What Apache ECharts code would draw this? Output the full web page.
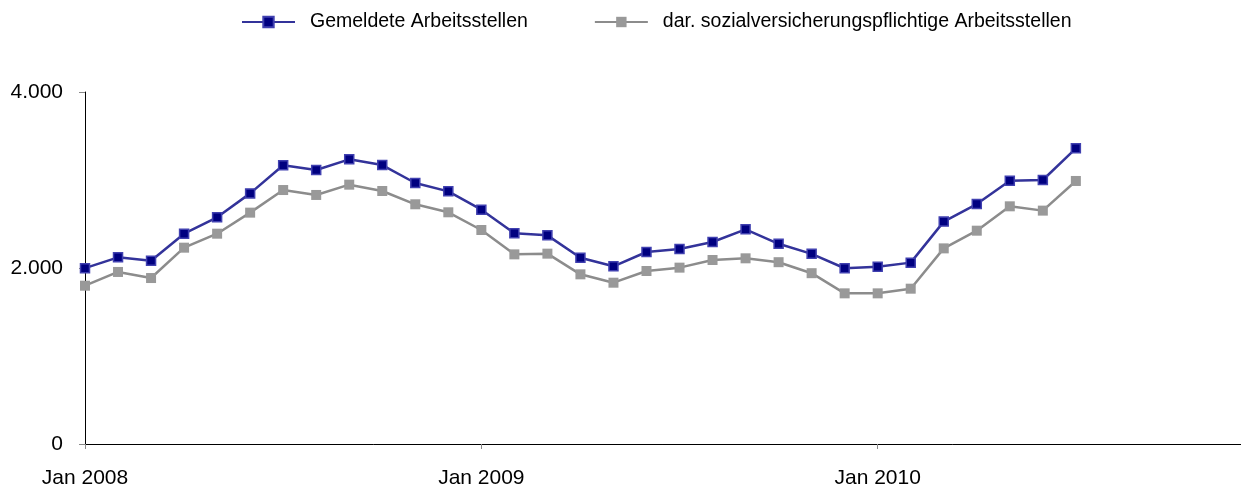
<!DOCTYPE html>
<html>
<head>
<meta charset="utf-8">
<script src="https://cdn.jsdelivr.net/npm/echarts@6/dist/echarts.min.js"></script>
<style>
  html, body { margin: 0; padding: 0; background: #fff; }
  #chart { width: 1241px; height: 490px; }
</style>
</head>
<body>
<div id="chart"></div>
<script>
// Gemeldete Arbeitsstellen, Jan 2008 - Jul 2010 (Achse bis Dez 2010)
const months = ['Jan', 'Feb', 'Mär', 'Apr', 'Mai', 'Jun', 'Jul', 'Aug', 'Sep', 'Okt', 'Nov', 'Dez']
const years = [2008, 2009, 2010]
const categories = years.flatMap(y => months.map(m => m + ' ' + y))

const gemeldete = [
  1998, 2121, 2083, 2390, 2576, 2848, 3167, 3114, 3235, 3170, 2966, 2871,
  2663, 2394, 2371, 2117, 2019, 2182, 2216, 2295, 2439, 2275, 2161, 1997,
  2015, 2061, 2527, 2727, 2992, 3000, 3360
]
const svPflichtig = [
  1799, 1955, 1886, 2231, 2390, 2629, 2886, 2830, 2947, 2875, 2724, 2633,
  2432, 2155, 2163, 1928, 1833, 1966, 2004, 2091, 2110, 2066, 1941, 1712,
  1712, 1765, 2223, 2424, 2701, 2652, 2989
]
const yTicks = [0, 2000, 4000]

const font = 'Liberation Sans, Arial, sans-serif'
const fmt = v => String(v).replace(/\B(?=(\d{3})+(?!\d))/g, '.')

const chart = echarts.init(document.getElementById('chart'))
chart.setOption({
  animation: false,
  textStyle: { fontFamily: font },
  legend: {
    left: 236,
    top: 7,
    itemWidth: 53,
    itemHeight: 13,
    itemGap: 66,
    textStyle: { fontSize: 19.5, color: '#000', fontFamily: font, padding: [0, 0, 0, 10] },
    data: ['Gemeldete Arbeitsstellen', 'dar. sozialversicherungspflichtige Arbeitsstellen']
  },
  grid: {
    left: 85,
    right: -2,
    top: 92,
    bottom: 46,
    containLabel: false
  },
  xAxis: {
    type: 'category',
    data: categories,
    boundaryGap: false,
    axisLine: { lineStyle: { color: '#000', width: 1 } },
    axisTick: { interval: 11, length: 5, lineStyle: { color: '#888' } },
    axisLabel: {
      interval: 11,
      margin: 24,
      fontSize: 21,
      color: '#000',
      formatter: v => v.replace('Mär', 'Mar').replace('Mai', 'May')
    },
    splitLine: { show: false }
  },
  yAxis: {
    type: 'value',
    min: yTicks[0],
    max: yTicks[yTicks.length - 1],
    interval: 2000,
    axisLine: { show: true, lineStyle: { color: '#000', width: 1 } },
    axisTick: { show: true, length: 6, lineStyle: { color: '#888' } },
    axisLabel: { margin: 22, fontSize: 21, color: '#000', formatter: fmt },
    splitLine: { show: false }
  },
  series: [
    {
      name: 'Gemeldete Arbeitsstellen',
      type: 'line',
      data: gemeldete,
      symbol: 'rect',
      symbolSize: 9,
      showAllSymbol: true,
      lineStyle: { color: '#33339a', width: 2.5 },
      itemStyle: { color: '#000080', borderColor: '#4040b0', borderWidth: 1.5 }
    },
    {
      name: 'dar. sozialversicherungspflichtige Arbeitsstellen',
      type: 'line',
      data: svPflichtig,
      symbol: 'rect',
      symbolSize: 10,
      showAllSymbol: true,
      lineStyle: { color: '#8c8c8c', width: 2.5 },
      itemStyle: { color: '#999999', borderWidth: 0 }
    }
  ]
})
</script>
</body>
</html>
